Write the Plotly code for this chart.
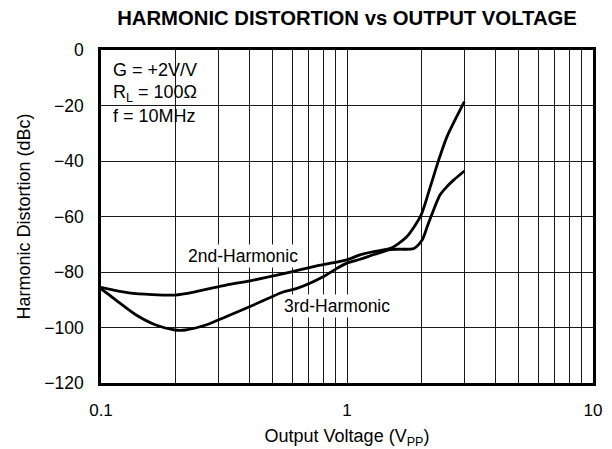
import plotly.graph_objects as go

# Harmonic distortion vs output voltage (G = +2V/V, RL = 100 ohm, f = 10MHz)
vout_2nd = [0.1, 0.13, 0.2, 0.243, 0.322, 0.417, 0.57, 0.78, 1.0, 1.13, 1.3,
            1.5, 1.75, 2.0, 2.18, 2.36, 2.55, 3.0]
hd2_dbc = [-85.5, -87.5, -88.3, -87.1, -84.7, -82.9, -80.3, -77.5, -75.6, -73.8,
           -72.6, -71.5, -67.3, -59.5, -49.3, -39.6, -31.2, -18.6]

vout_3rd = [0.1, 0.115, 0.139, 0.167, 0.2, 0.22, 0.267, 0.322, 0.417, 0.553,
            0.626, 0.8, 0.91, 1.0, 1.13, 1.3, 1.5, 1.62, 1.87, 2.02, 2.12, 2.22,
            2.39, 2.55, 2.71, 3.0]
hd3_dbc = [-86.0, -90.1, -95.5, -99.1, -100.9, -100.9, -99.1, -96.1, -91.9, -87.1,
           -85.9, -81.7, -78.7, -76.8, -75.4, -73.6, -71.9, -71.8, -71.5, -68.5,
           -63.6, -58.9, -52.2, -49.2, -46.9, -43.6]

# Log-axis grid: every integer multiple within each decade
x_grid = [m * d for d in (0.1, 1.0) for m in range(1, 10)] + [10.0]
x_labels = {0.1: "0.1", 1.0: "1", 10.0: "10"}
x_text = [x_labels.get(round(v, 6), "") for v in x_grid]

y_ticks = [0, -20, -40, -60, -80, -100, -120]
y_text = ["0" if v == 0 else "\u2212" + str(-v) for v in y_ticks]

FONT = "Arial, Liberation Sans, Helvetica, sans-serif"
INK = "#000000"

fig = go.Figure()
fig.add_trace(go.Scatter(x=vout_2nd, y=hd2_dbc, mode="lines",
                         line=dict(color=INK, width=2.8, shape="spline", smoothing=0.7),
                         name="2nd-Harmonic", hoverinfo="skip"))
fig.add_trace(go.Scatter(x=vout_3rd, y=hd3_dbc, mode="lines",
                         line=dict(color=INK, width=2.8, shape="spline", smoothing=0.7),
                         name="3rd-Harmonic", hoverinfo="skip"))

# White panel behind the test-condition text
fig.add_shape(type="rect", xref="paper", yref="paper",
              x0=0.010, x1=0.213, y0=0.739, y1=0.991,
              fillcolor="white", line=dict(width=0), layer="between")

def py(px):
    # pixel row inside the plot area -> paper fraction
    return 1 - (px - 50) / 333.0

cond_lines = ["G = +2V/V", "R<sub>L</sub> = 100\u03a9", "f = 10MHz"]
cond_rows = [70, 93, 116]
for txt, row in zip(cond_lines, cond_rows):
    fig.add_annotation(text=txt, xref="paper", yref="paper",
                       x=(111 - 101) / 492.0, y=py(row), xanchor="left", yanchor="middle",
                       showarrow=False, font=dict(family=FONT, size=18, color=INK))

fig.add_annotation(text="2nd-Harmonic", x=-0.4228, y=-74.3, xref="x", yref="y",
                   showarrow=False, font=dict(family=FONT, size=17.5, color=INK),
                   bgcolor="white", borderpad=1)
fig.add_annotation(text="3rd-Harmonic", x=-0.039, y=-92.3, xref="x", yref="y",
                   showarrow=False, font=dict(family=FONT, size=17.5, color=INK),
                   bgcolor="white", borderpad=1)

fig.update_layout(
    width=612, height=449,
    margin=dict(l=101, r=19, t=50, b=66),
    paper_bgcolor="white", plot_bgcolor="white",
    showlegend=False,
    font=dict(family=FONT, size=17, color=INK),
    title=dict(text="<b>HARMONIC DISTORTION vs OUTPUT VOLTAGE</b>",
               x=(101 + 593) / 2 / 612.0, xanchor="center",
               y=1 - 18 / 449.0, yanchor="middle",
               font=dict(family=FONT, size=20.3, color=INK)),
)

fig.update_xaxes(type="log", range=[-1, 1], automargin=False,
                 tickvals=x_grid, ticktext=x_text, ticks="",
                 showgrid=True, gridcolor="#1a1a1a", gridwidth=1,
                 showline=True, linecolor=INK, linewidth=2.5, mirror=True,
                 zeroline=False, ticklabelstandoff=10,
                 tickfont=dict(family=FONT, size=17, color=INK),
                 title=dict(text="Output Voltage (V<sub>PP</sub>)", standoff=14,
                            font=dict(family=FONT, size=18, color=INK)))
fig.update_yaxes(range=[-120, 0], automargin=False,
                 tickvals=y_ticks, ticktext=y_text, ticks="",
                 showgrid=True, gridcolor="#1a1a1a", gridwidth=1,
                 showline=True, linecolor=INK, linewidth=2.5, mirror=True,
                 zeroline=False, ticklabelstandoff=11,
                 tickfont=dict(family=FONT, size=17.5, color=INK),
                 title=dict(text="Harmonic Distortion (dBc)", standoff=10,
                            font=dict(family=FONT, size=18, color=INK)))

fig.write_html("out.html")
